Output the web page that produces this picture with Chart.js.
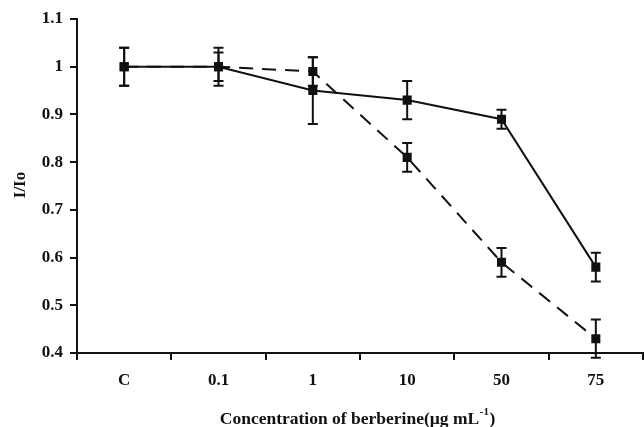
<!DOCTYPE html>
<html>
<head>
<meta charset="utf-8">
<script src="https://cdn.jsdelivr.net/npm/chart.js@4"></script>
<style>
  html, body { margin: 0; padding: 0; background: #fff; }
  #wrap { width: 644px; height: 427px; }
</style>
</head>
<body>
<div id="wrap"><canvas id="c" width="644" height="427"></canvas></div>
<script>
const categories = ['C', '0.1', '1', '10', '50', '75'];
const solidValues = [1.00, 1.00, 0.95, 0.93, 0.89, 0.58];
const solidErrors = [0.04, 0.03, 0.07, 0.04, 0.02, 0.03];
const dashedValues = [1.00, 1.00, 0.99, 0.81, 0.59, 0.43];
const dashedErrors = [0.04, 0.04, 0.03, 0.03, 0.03, 0.04];
const yTicks = [0.4, 0.5, 0.6, 0.7, 0.8, 0.9, 1.0, 1.1];
const xTitle = 'Concentration of berberine(\u00b5g mL';
const xTitleSup = '-1';
const xTitleEnd = ')';
const yTitle = 'I/Io';

const FONT = '"Liberation Serif", "Times New Roman", serif';

const errorBars = {
  id: 'errorBars',
  afterDatasetsDraw(chart) {
    const ctx = chart.ctx;
    const ys = chart.scales.y;
    chart.data.datasets.forEach((ds, i) => {
      const meta = chart.getDatasetMeta(i);
      const errs = ds.errors;
      meta.data.forEach((pt, j) => {
        const v = ds.data[j];
        const e = errs[j];
        const yTop = ys.getPixelForValue(v + e);
        const yBot = ys.getPixelForValue(v - e);
        const x = pt.x;
        ctx.save();
        ctx.strokeStyle = '#111';
        ctx.lineWidth = 2;
        ctx.setLineDash([]);
        ctx.beginPath();
        ctx.moveTo(x, yTop); ctx.lineTo(x, yBot);
        ctx.moveTo(x - 5, yTop); ctx.lineTo(x + 5, yTop);
        ctx.moveTo(x - 5, yBot); ctx.lineTo(x + 5, yBot);
        ctx.stroke();
        ctx.restore();
      });
    });
  }
};

const titles = {
  id: 'titles',
  afterDraw(chart) {
    const ctx = chart.ctx;
    ctx.save();
    ctx.fillStyle = '#111';
    const mainFont = 'bold 17.5px ' + FONT;
    const supFont = 'bold 11px ' + FONT;
    ctx.font = mainFont;
    const w1 = ctx.measureText(xTitle).width;
    const w3 = ctx.measureText(xTitleEnd).width;
    ctx.font = supFont;
    const w2 = ctx.measureText(xTitleSup).width;
    const total = w1 + w2 + w3;
    const cx = 357;
    let x = cx - total / 2;
    const base = 424;
    ctx.textBaseline = 'alphabetic';
    ctx.textAlign = 'left';
    ctx.font = mainFont;
    ctx.fillText(xTitle, x, base);
    x += w1 + 0.5;
    ctx.font = supFont;
    ctx.fillText(xTitleSup, x, base - 9);
    x += w2 + 0.5;
    ctx.font = mainFont;
    ctx.fillText(xTitleEnd, x, base);
    ctx.translate(21, 185);
    ctx.rotate(-Math.PI / 2);
    ctx.textAlign = 'center';
    ctx.textBaseline = 'middle';
    ctx.font = 'bold 17px ' + FONT;
    ctx.fillText(yTitle, 0, 0);
    ctx.restore();
  }
};

new Chart(document.getElementById('c'), {
  type: 'line',
  data: {
    labels: categories,
    datasets: [
      {
        label: 'solid',
        data: solidValues,
        errors: solidErrors,
        borderColor: '#111',
        backgroundColor: '#111',
        borderWidth: 2,
        pointStyle: 'rect',
        pointRadius: 6.4,
        pointBorderWidth: 0,
        tension: 0,
        order: 0
      },
      {
        label: 'dashed',
        data: dashedValues,
        errors: dashedErrors,
        borderColor: '#111',
        backgroundColor: '#111',
        borderWidth: 2,
        borderDash: [14, 9],
        pointStyle: 'rect',
        pointRadius: 6.4,
        pointBorderWidth: 0,
        tension: 0,
        order: 1
      }
    ]
  },
  options: {
    responsive: false,
    animation: false,
    devicePixelRatio: 1,
    layout: { autoPadding: false, padding: { top: 19, right: 1, left: 0, bottom: 0 } },
    plugins: { legend: { display: false }, tooltip: { enabled: false } },
    scales: {
      x: {
        type: 'category',
        offset: true,
        grid: { display: true, offset: true, drawOnChartArea: false, drawTicks: true, tickLength: 7, color: '#111', lineWidth: 2 },
        border: { display: true, color: '#111', width: 2 },
        ticks: { color: '#111', font: { family: FONT, size: 17, weight: 'bold' }, padding: 10, maxRotation: 0 },
        afterFit(s) { s.height = 74; s.paddingLeft = 0; s.paddingRight = 0; }
      },
      y: {
        type: 'linear',
        min: 0.4,
        max: 1.1,
        afterBuildTicks(s) { s.ticks = yTicks.map(v => ({ value: v })); },
        grid: { display: true, drawOnChartArea: false, drawTicks: true, tickLength: 7, color: '#111', lineWidth: 2 },
        border: { display: true, color: '#111', width: 2 },
        ticks: { color: '#111', font: { family: FONT, size: 17, weight: 'bold' }, padding: 7,
          callback: v => String(Math.round(v * 10) / 10) },
        afterFit(s) { s.width = 77; s.paddingTop = 0; s.paddingBottom = 0; }
      }
    }
  },
  plugins: [errorBars, titles]
});
</script>
</body>
</html>
